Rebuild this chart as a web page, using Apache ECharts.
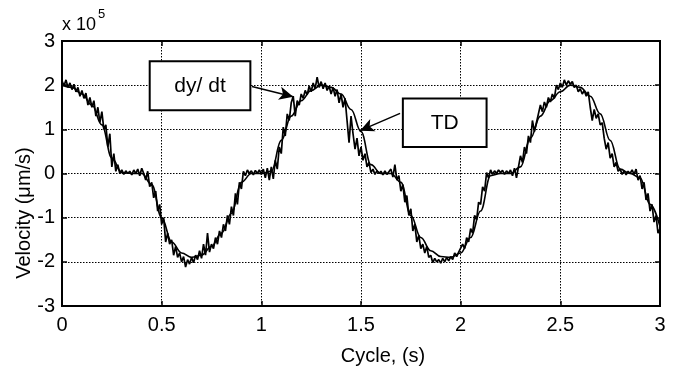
<!DOCTYPE html>
<html>
<head>
<meta charset="utf-8">
<script src="https://cdn.jsdelivr.net/npm/echarts@6/dist/echarts.min.js"></script>
<style>html,body{margin:0;padding:0;background:#fff}#c{width:677px;height:367px}</style>
</head>
<body>
<div id="c"></div>
<script>
// dy/dt (noisy) sampled every 0.01 s, values in units of 1e5 um/s
const dydtStart = 0, dydtStep = 0.01;
const dydtValues = [
 2.10,1.98,2.12,1.95,2.05,1.90,2.02,1.85,1.95,1.75,1.88,
 1.70,1.82,1.55,1.72,1.50,1.65,1.30,1.50,1.15,1.40,
 1.00,1.10,0.60,0.90,0.15,0.45,0.05,0.20,0.00,0.08,
 -0.02,0.06,0.00,0.05,-0.03,0.08,0.00,0.10,-0.05,0.12,
 0.00,-0.15,0.05,-0.30,-0.20,-0.55,-0.40,-0.85,-0.70,-1.15,
 -1.00,-1.55,-1.35,-1.60,-1.50,-1.85,-1.65,-1.90,-1.80,-2.00,
 -1.88,-2.12,-1.95,-2.05,-1.90,-2.02,-1.85,-1.95,-1.75,-1.92,
 -1.60,-1.85,-1.35,-1.78,-1.60,-1.70,-1.45,-1.60,-1.30,-1.45,
 -1.15,-1.30,-0.95,-1.15,-0.75,-0.95,-0.45,-0.70,-0.20,-0.35,
 0.05,-0.05,0.08,0.00,0.06,-0.03,0.07,0.00,0.08,-0.02,
 0.10,-0.10,0.12,-0.15,0.15,-0.12,0.30,0.10,0.60,0.45,
 1.05,0.85,1.35,1.20,1.60,1.75,1.30,1.65,1.55,1.80,
 1.70,1.88,1.78,1.98,1.85,2.05,1.92,2.18,1.95,2.08,
 1.92,2.05,1.88,1.98,1.80,1.95,1.75,1.90,1.60,1.80,
 1.50,1.70,1.20,0.70,1.30,0.90,0.55,0.80,0.40,0.60,
 0.30,0.45,0.15,0.25,0.02,0.10,-0.02,0.06,0.00,0.05,
 -0.03,0.06,-0.02,0.04,0.10,-0.08,0.20,-0.15,-0.05,-0.40,
 -0.25,-0.65,-0.50,-0.95,-0.80,-1.30,-1.15,-1.55,-1.40,-1.70,
 -1.60,-1.80,-1.65,-1.90,-1.85,-2.02,-1.92,-2.00,-1.95,-2.03,
 -1.92,-2.00,-1.90,-1.98,-1.88,-1.95,-1.80,-1.88,-1.78,-1.82,
 -1.60,-1.70,-1.45,-1.55,-1.25,-1.35,-0.95,-1.05,-0.65,-0.70,
 -0.30,-0.40,0.02,-0.10,0.08,-0.02,0.06,0.00,0.08,0.02,
 0.07,-0.02,0.06,0.00,0.08,-0.05,0.12,-0.10,0.15,0.40,
 0.25,0.60,0.45,0.85,0.70,1.20,0.95,1.15,1.35,1.55,
 1.40,1.62,1.50,1.72,1.62,1.80,1.70,2.00,1.90,2.05,
 1.95,2.12,2.00,2.10,2.02,2.08,1.95,2.00,1.85,1.92,
 1.80,1.88,1.75,1.85,1.50,1.20,1.45,1.25,1.35,1.10,
 1.15,0.80,0.55,0.70,0.35,0.45,0.15,0.25,0.05,0.10,
 -0.02,0.06,-0.03,0.05,0.00,0.08,-0.02,0.10,-0.15,-0.05,
 -0.35,-0.20,-0.60,-0.45,-0.85,-0.70,-1.10,-0.95,-1.35,-1.25
];
// TD (smooth) sampled every 0.05 s
const tdStart = 0, tdStep = 0.05;
const tdValues = [
 2.00,1.95,1.80,1.55,1.10,0.35,0.02,0.00,0.00,-0.25,
 -1.00,-1.55,-1.80,-1.90,-1.85,-1.65,-1.35,-0.90,-0.20,0.00,
 0.00,0.05,0.75,1.30,1.65,1.88,2.00,1.95,1.80,1.45,
 0.95,0.20,0.00,0.00,-0.20,-0.95,-1.45,-1.75,-1.88,-1.90,
 -1.80,-1.45,-0.85,-0.05,0.00,0.00,0.15,0.80,1.30,1.65,
 1.85,2.00,1.95,1.75,1.35,0.75,0.10,0.00,-0.10,-0.70,
 -1.20
];
const xTicks = [0, 0.5, 1, 1.5, 2, 2.5, 3];
const yTicks = [-3, -2, -1, 0, 1, 2, 3];
const annotationLabels = ['dy/ dt', 'TD'];
const annotationBoxes = [[[0.44, 2.54], [0.945, 1.43]], [[1.71, 1.70], [2.13, 0.60]]];
const annotationArrows = [[[0.953, 1.97], [1.16, 1.74]], [[1.696, 1.36], [1.495, 0.97]]];

const dydt = dydtValues.map((v, i) => [+(dydtStart + i * dydtStep).toFixed(3), v]);
const td = tdValues.map((v, i) => [+(tdStart + i * tdStep).toFixed(3), v]);

const FONT = 'Liberation Sans, Arial, sans-serif';
const chart = echarts.init(document.getElementById('c'), null, {renderer: 'canvas'});

const gridLine = {show: true, lineStyle: {color: '#000', type: [1.5, 1.5], width: 1}};
const tick = {show: true, inside: true, length: 5, lineStyle: {color: '#000', width: 1.5}};
const option = {
  animation: false,
  backgroundColor: '#fff',
  grid: {left: 62, right: 17, top: 41, bottom: 61, show: true, borderColor: '#000', borderWidth: 2, backgroundColor: 'transparent'},
  xAxis: [{
    type: 'value', min: 0, max: 3, interval: 0.5,
    axisLine: {show: true, onZero: false, lineStyle: {color: '#000', width: 2}},
    axisTick: tick,
    axisLabel: {color: '#000', fontSize: 20, fontFamily: FONT, margin: 9},
    splitLine: gridLine
  }, {
    type: 'value', min: 0, max: 3, interval: 0.5, position: 'top',
    axisLine: {show: false, onZero: false}, axisLabel: {show: false}, splitLine: {show: false},
    axisTick: tick
  }],
  yAxis: [{
    type: 'value', min: -3, max: 3, interval: 1,
    axisLine: {show: true, onZero: false, lineStyle: {color: '#000', width: 2}},
    axisTick: tick,
    axisLabel: {color: '#000', fontSize: 20, fontFamily: FONT, margin: 7},
    splitLine: gridLine
  }, {
    type: 'value', min: -3, max: 3, interval: 1, position: 'right',
    axisLine: {show: false, onZero: false}, axisLabel: {show: false}, splitLine: {show: false},
    axisTick: tick
  }],
  series: [{
    name: 'dy/dt', type: 'line', data: dydt, showSymbol: false, symbol: 'none',
    lineStyle: {color: '#000', width: 1.7}, z: 3,
    markArea: {
      silent: true,
      itemStyle: {color: '#fff', borderColor: '#000', borderWidth: 2},
      label: {show: true, position: 'inside', color: '#000', fontSize: 21, fontFamily: FONT},
      data: annotationBoxes.map((b, i) => [{coord: b[0], name: annotationLabels[i]}, {coord: b[1]}])
    },
    markLine: {
      silent: true, symbol: ['none', 'arrow'], symbolSize: [10, 14],
      lineStyle: {color: '#000', width: 1.5, type: 'solid'}, label: {show: false},
      data: annotationArrows.map(a => [{coord: a[0]}, {coord: a[1]}])
    }
  }, {
    name: 'TD', type: 'line', data: td, showSymbol: false, symbol: 'none', smooth: 0.4, smoothMonotone: 'x',
    lineStyle: {color: '#000', width: 1.6}, z: 2
  }],
  graphic: [
    {type: 'text', x: 62, y: 25, style: {text: 'x 10', fontSize: 18, fontFamily: FONT, fill: '#000', textVerticalAlign: 'middle'}},
    {type: 'text', x: 98, y: 14, style: {text: '5', fontSize: 13, fontFamily: FONT, fill: '#000', textVerticalAlign: 'middle'}},
    {type: 'text', x: 24, y: 213, rotation: Math.PI / 2,
     style: {text: 'Velocity (\u03bcm/s)', fontSize: 20, fontFamily: FONT, fill: '#000', textAlign: 'center', textVerticalAlign: 'middle'}},
    {type: 'text', x: 383, y: 356,
     style: {text: 'Cycle, (s)', fontSize: 20, fontFamily: FONT, fill: '#000', textAlign: 'center', textVerticalAlign: 'middle'}}
  ]
};
chart.setOption(option);
</script>
</body>
</html>
